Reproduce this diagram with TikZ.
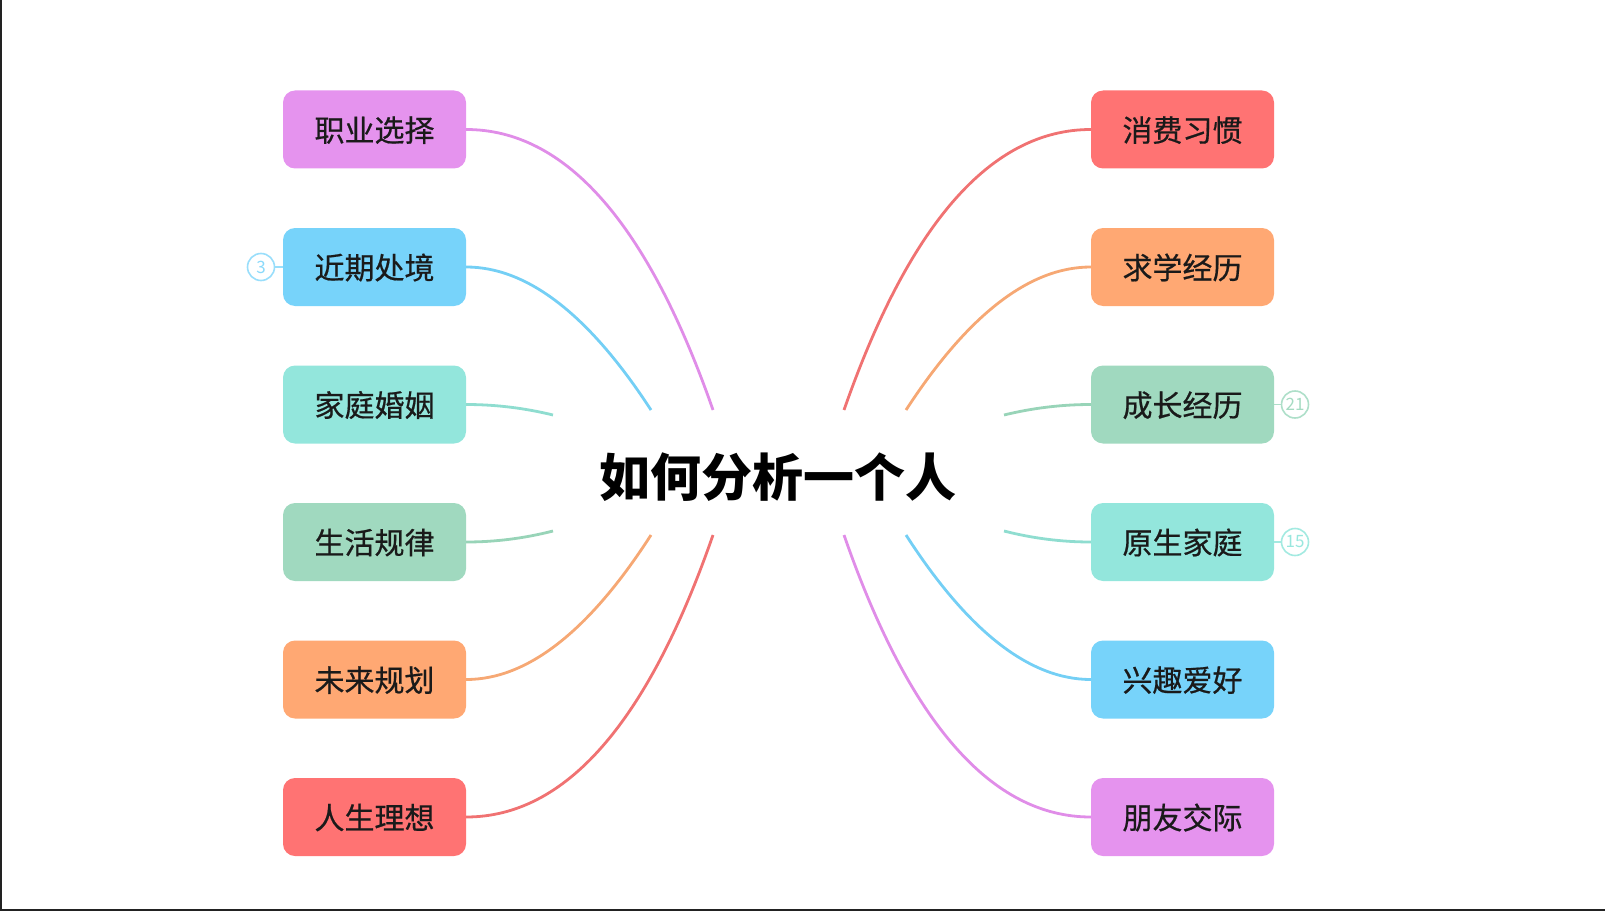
\documentclass[tikz,border=0pt]{standalone}
\usepackage{fontspec}
\setmainfont{Noto Sans CJK SC}
\newfontfamily\boxfont{Noto Sans CJK SC}[FakeBold=0.6]
\usetikzlibrary{calc}
\definecolor{pinkF}{HTML}{E593EE}
\definecolor{blueF}{HTML}{77D3FA}
\definecolor{tealF}{HTML}{93E6DC}
\definecolor{greenF}{HTML}{A0D9BF}
\definecolor{orangeF}{HTML}{FFA873}
\definecolor{redF}{HTML}{FF7373}
\definecolor{pinkL}{HTML}{E08DE8}
\definecolor{blueL}{HTML}{74CFF5}
\definecolor{tealL}{HTML}{8FDDD0}
\definecolor{greenL}{HTML}{98D4B8}
\definecolor{orangeL}{HTML}{F6A874}
\definecolor{redL}{HTML}{F07272}
\definecolor{txt}{HTML}{1A1A1A}
\definecolor{frame}{HTML}{222222}
\tikzset{
  box/.style={rounded corners=12pt, minimum width=183pt, minimum height=78pt,
    inner sep=0pt, text=txt, text height=28pt, text depth=4pt,
    font=\boxfont\fontsize{30}{36}\selectfont},
  lk/.style={line width=2.8pt},
  badge/.style={circle, draw, line width=1.6pt, minimum size=27pt, inner sep=0pt,
    font=\fontsize{17}{19}\selectfont, fill=white},
  quadto/.style={to path={.. controls ($(\tikztostart)!0.6667!(#1)$) and ($(\tikztotarget)!0.6667!(#1)$) .. (\tikztotarget)}}
}
\begin{document}
\begin{tikzpicture}[x=1pt,y=-1pt]
\useasboundingbox (0,0) rectangle (1605,912);
\draw[frame, line width=2pt] (1,0) -- (1,910) -- (1605,910);

% title
\node[font=\fontsize{51}{60}\selectfont\bfseries, text=black] (t) at (778,477) {如何分析一个人};

% left boxes
\node[box, fill=pinkF]   (l1) at (374.5,129.5) {职业选择};
\node[box, fill=blueF]   (l2) at (374.5,267) {近期处境};
\node[box, fill=tealF]   (l3) at (374.5,404.5) {家庭婚姻};
\node[box, fill=greenF]  (l4) at (374.5,542) {生活规律};
\node[box, fill=orangeF] (l5) at (374.5,679.5) {未来规划};
\node[box, fill=redF]    (l6) at (374.5,817) {人生理想};

% right boxes
\node[box, fill=redF]    (r1) at (1182.5,129.5) {消费习惯};
\node[box, fill=orangeF] (r2) at (1182.5,267) {求学经历};
\node[box, fill=greenF]  (r3) at (1182.5,404.5) {成长经历};
\node[box, fill=tealF]   (r4) at (1182.5,542) {原生家庭};
\node[box, fill=blueF]   (r5) at (1182.5,679.5) {兴趣爱好};
\node[box, fill=pinkF]   (r6) at (1182.5,817) {朋友交际};

% end points near title
\coordinate (le1) at (713,410);
\coordinate (le2) at (651,410);
\coordinate (le3) at (553,415);
\coordinate (le4) at (553,531);
\coordinate (le5) at (651,535);
\coordinate (le6) at (713,535);
\coordinate (re1) at (844,410);
\coordinate (re2) at (906,410);
\coordinate (re3) at (1004,415);
\coordinate (re4) at (1004,531);
\coordinate (re5) at (906,535);
\coordinate (re6) at (844,535);
% quadratic control points
\coordinate (lc1) at (615,129.5);
\coordinate (lc2) at (558,267);
\coordinate (lc3) at (510,404.5);
\coordinate (lc4) at (510,542);
\coordinate (lc5) at (558,679.5);
\coordinate (lc6) at (615,817);
\coordinate (rc1) at (942,129.5);
\coordinate (rc2) at (999,267);
\coordinate (rc3) at (1047,404.5);
\coordinate (rc4) at (1047,542);
\coordinate (rc5) at (999,679.5);
\coordinate (rc6) at (942,817);

\draw[lk, pinkL]   (l1.east) to[quadto=lc1] (le1);
\draw[lk, blueL]   (l2.east) to[quadto=lc2] (le2);
\draw[lk, tealL]   (l3.east) to[quadto=lc3] (le3);
\draw[lk, greenL]  (l4.east) to[quadto=lc4] (le4);
\draw[lk, orangeL] (l5.east) to[quadto=lc5] (le5);
\draw[lk, redL]    (l6.east) to[quadto=lc6] (le6);

\draw[lk, redL]    (r1.west) to[quadto=rc1] (re1);
\draw[lk, orangeL] (r2.west) to[quadto=rc2] (re2);
\draw[lk, greenL]  (r3.west) to[quadto=rc3] (re3);
\draw[lk, tealL]   (r4.west) to[quadto=rc4] (re4);
\draw[lk, blueL]   (r5.west) to[quadto=rc5] (re5);
\draw[lk, pinkL]   (r6.west) to[quadto=rc6] (re6);

% badges
\node[badge, draw=blueF!75, text=blueF!85] (b1) at (261,267) {3};
\node[badge, draw=greenF!85, text=greenF!95] (b2) at (1295,404.5) {21};
\node[badge, draw=tealF!85, text=tealF!95] (b3) at (1295,542) {15};
\draw[line width=1.6pt, blueF!75] (b1) -- (l2.west);
\draw[line width=1.6pt, greenF!85] (r3.east) -- (b2);
\draw[line width=1.6pt, tealF!85] (r4.east) -- (b3);
\end{tikzpicture}
\end{document}
